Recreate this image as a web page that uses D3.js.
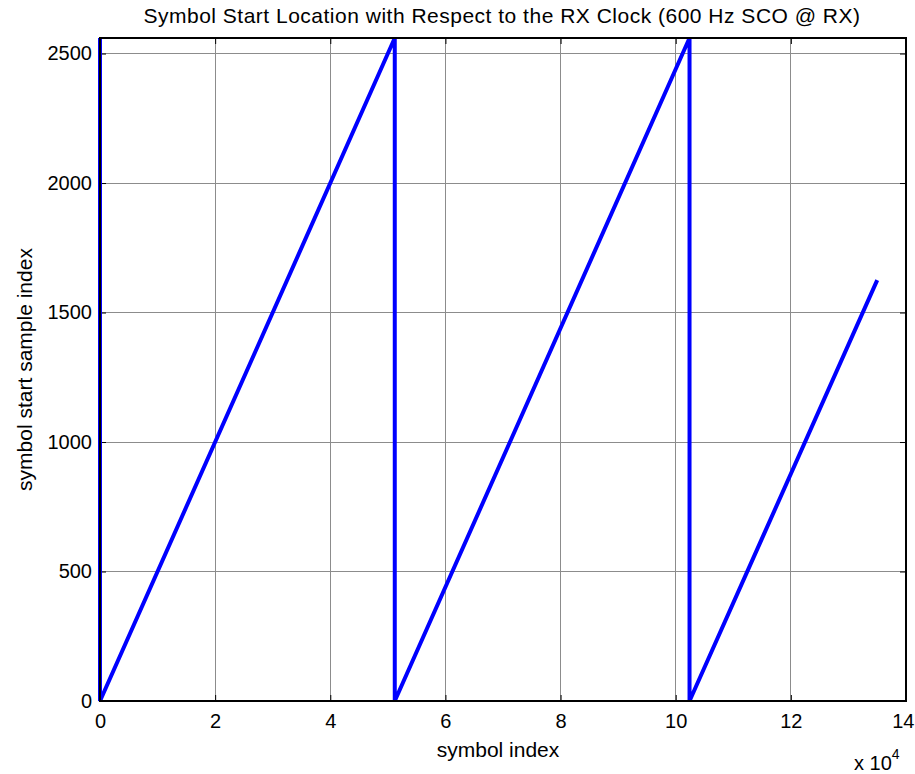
<!DOCTYPE html>
<html>
<head>
<meta charset="utf-8">
<title>symbol start</title>
<script src="https://d3js.org/d3.v7.min.js"></script>
<style>
    body { margin: 0; background: #fff; }
    svg { font-family: "Liberation Sans", Arial, sans-serif; }
    .grid line { stroke: #8c8c8c; stroke-width: 1; shape-rendering: crispEdges; }
    .tick text { fill: #000; }
    path.series { fill: none; stroke: #0000ff; stroke-width: 4; stroke-linejoin: miter; }
</style>
</head>
<body>
<svg id="chart" width="915" height="774"></svg>
<script>
// sawtooth of symbol start index vs symbol index
let symbolIndex = [0, 0, 51200, 51200, 102400, 102400, 135000];
let startSample = [2560, 0, 2560, 0, 2560, 0, 1625];

let xTicks = [0, 2, 4, 6, 8, 10, 12, 14];
let yTicks = [0, 500, 1000, 1500, 2000, 2500];

let svg = d3.select('#chart');
let pLeft = 100, pRight = 906, pTop = 38, pBottom = 701;

let x = d3.scaleLinear().domain([0, 14]).range([pLeft, pRight]);
let y = d3.scaleLinear().domain([0, 2560]).range([pBottom, pTop]);

// grid
let grid = svg.append('g').classed('grid', true);
grid.selectAll('line.v').data(xTicks.slice(1, -1)).enter()
    .append('line')
    .attr('x1', d => x(d)).attr('x2', d => x(d))
    .attr('y1', pTop).attr('y2', pBottom);
grid.selectAll('line.h').data(yTicks.slice(1)).enter()
    .append('line')
    .attr('x1', pLeft).attr('x2', pRight)
    .attr('y1', d => y(d)).attr('y2', d => y(d));

// axes, ticks pointing inward
let tl = 6;
svg.append('g')
    .attr('transform', 'translate(0,' + pBottom + ')')
    .call(d3.axisBottom(x).tickValues(xTicks).tickSize(-tl).tickPadding(13).tickSizeOuter(0))
    .call(g => g.selectAll('text').attr('font-size', 20))
    // last label would run off the page edge
    .call(g => g.selectAll('.tick').filter(d => d === 14).select('text')
        .attr('text-anchor', 'end').attr('x', 8));
svg.append('g')
    .attr('transform', 'translate(' + pLeft + ',0)')
    .call(d3.axisLeft(y).tickValues(yTicks).tickFormat(d3.format('d')).tickSize(-tl).tickPadding(8).tickSizeOuter(0))
    .call(g => g.selectAll('text').attr('font-size', 20));
svg.append('g')
    .attr('transform', 'translate(0,' + pTop + ')')
    .call(d3.axisTop(x).tickValues(xTicks).tickSize(-tl).tickFormat('').tickSizeOuter(0));
svg.append('g')
    .attr('transform', 'translate(' + pRight + ',0)')
    .call(d3.axisRight(y).tickValues(yTicks).tickSize(-tl).tickFormat('').tickSizeOuter(0));
svg.selectAll('.domain').remove();
svg.selectAll('.tick line').attr('stroke', '#000');

// data line
let pts = symbolIndex.map((s, i) => [s / 1e4, startSample[i]]);
svg.append('path')
    .datum(pts)
    .classed('series', true)
    .attr('d', d3.line().x(d => x(d[0])).y(d => y(d[1])));

// box
svg.append('rect')
    .attr('x', pLeft).attr('y', pTop)
    .attr('width', pRight - pLeft).attr('height', pBottom - pTop)
    .attr('fill', 'none').attr('stroke', '#000').attr('stroke-width', 1.2)
    .attr('shape-rendering', 'crispEdges');

// text
svg.append('text')
    .attr('x', 502).attr('y', 23)
    .attr('text-anchor', 'middle').attr('font-size', 21).attr('letter-spacing', 0.5)
    .text('Symbol Start Location with Respect to the RX Clock (600 Hz SCO @ RX)');
svg.append('text')
    .attr('x', 498).attr('y', 757)
    .attr('text-anchor', 'middle').attr('font-size', 21)
    .text('symbol index');
svg.append('text')
    .attr('transform', 'translate(32,' + ((pTop + pBottom) / 2) + ') rotate(-90)')
    .attr('text-anchor', 'middle').attr('font-size', 21)
    .text('symbol start sample index');
let ex = svg.append('text').attr('x', 854).attr('y', 770).attr('font-size', 20);
ex.append('tspan').text('x 10');
ex.append('tspan').attr('dy', -11).attr('font-size', 14).text('4');
</script>
</body>
</html>
